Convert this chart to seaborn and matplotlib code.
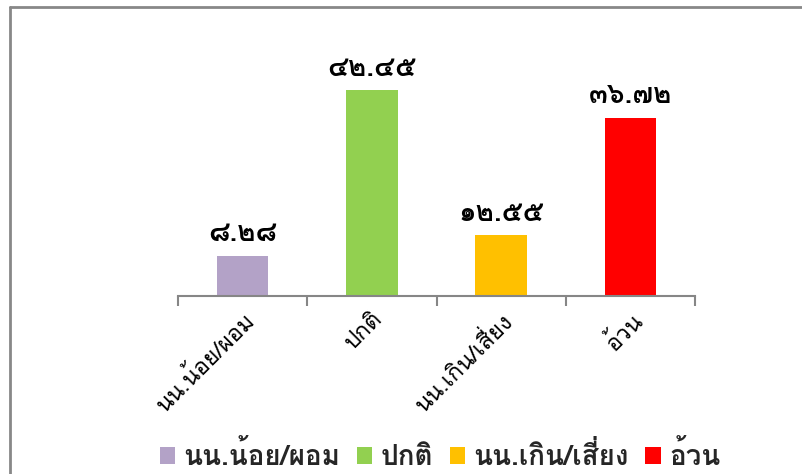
import matplotlib
matplotlib.use("Agg")
import numpy as np
import pandas as pd
import seaborn as sns
import matplotlib.pyplot as plt
from matplotlib.patches import Patch
from matplotlib.lines import Line2D

# ข้อมูล (ร้อยละ)
categories = ["นน.น้อย/ผอม", "ปกติ", "นน.เกิน/เสี่ยง", "อ้วน"]
values = [8.28, 42.45, 12.55, 36.72]
colors = ["#B3A2C7", "#92D050", "#FFC000", "#FF0000"]

THAI_DIGITS = str.maketrans("0123456789", "๐๑๒๓๔๕๖๗๘๙")


def set_config():
    sns.set_theme(style="white")
    plt.rcParams["font.family"] = ["Loma", "DejaVu Sans"]


def main():
    set_config()
    df = pd.DataFrame({"category": categories, "value": values})

    fig = plt.figure(figsize=(8.03, 4.74), dpi=100)
    ax = fig.add_axes([0.2217, 0.3755, 0.6438, 0.5115])

    sns.barplot(data=df, x="category", y="value", hue="category",
                palette=colors, width=0.4, saturation=1, legend=False, ax=ax,
                edgecolor="none")

    ax.set_xlim(-0.5, len(categories) - 0.5)
    ax.set_ylim(0, 50)
    ax.set_xlabel("")
    ax.set_ylabel("")
    ax.set_yticks([])
    for s in ["top", "right", "left"]:
        ax.spines[s].set_visible(False)
    ax.spines["bottom"].set_color("#868686")
    ax.spines["bottom"].set_linewidth(1.5)

    # เส้นแบ่งหมวด (major) และป้ายชื่อ (minor)
    ax.set_xticks(np.arange(-0.5, len(categories)), labels=[""] * (len(categories) + 1))
    ax.set_xticks(np.arange(len(categories)), labels=categories, minor=True)
    ax.tick_params(axis="x", which="major", length=7.5, width=1.5, color="#868686",
                   bottom=True, direction="out")
    ax.tick_params(axis="x", which="minor", length=0, pad=9)
    for lab in ax.get_xticklabels(minor=True):
        lab.set_rotation(45)
        lab.set_ha("right")
        lab.set_va("top")
        lab.set_rotation_mode("anchor")
        lab.set_fontsize(16.5)
        lab.set_color("#000000")

    # ค่าบนแท่ง
    for i, v in enumerate(values):
        ax.annotate(f"{v:.2f}".translate(THAI_DIGITS), (i, v),
                    xytext=(0, 7), textcoords="offset points",
                    ha="center", va="bottom", fontsize=20, fontweight="bold",
                    color="#000000")

    handles = [Patch(facecolor=c, edgecolor="none") for c in colors]
    fig.legend(handles, categories, loc="center", bbox_to_anchor=(0.548, 0.04),
               ncol=4, frameon=False, handlelength=0.55, handleheight=0.55,
               handletextpad=0.3, columnspacing=0.6,
               prop={"size": 20, "weight": "bold"})

    # กรอบสีเทา
    fig.add_artist(Line2D([10 / 803, 10 / 803], [0, 1 - 7 / 474],
                          transform=fig.transFigure, color="#888888", lw=2))
    fig.add_artist(Line2D([10 / 803, 1], [1 - 7 / 474, 1 - 7 / 474],
                          transform=fig.transFigure, color="#888888", lw=2))

    fig.savefig("out.png", dpi=100, facecolor="white")


if __name__ == "__main__":
    main()
